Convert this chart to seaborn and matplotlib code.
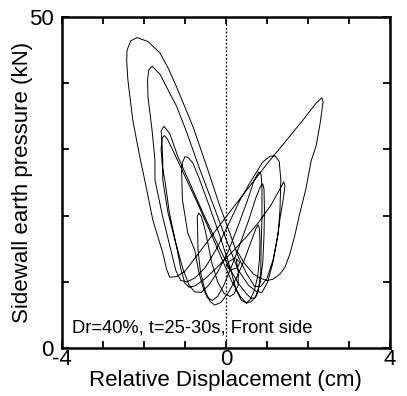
import matplotlib
matplotlib.use("Agg")
import matplotlib.pyplot as plt
import numpy as np
import pandas as pd
import seaborn as sns

# relative displacement (cm) / sidewall earth pressure (kN) in time order
start_x = [0.22, 0.08, 0.02, 0.10, 0.28, 0.34, 0.25, 0.30, 0.30, 0.20, 0.10, -0.05]
start_y = [13.6, 13.1, 12.4, 11.8, 12.1, 12.9, 13.5, 11.5, 9.5, 8.2, 7.8, 8.3]

cyc1_x = [-0.20, -0.35, -0.44, -0.52, -0.60, -0.66, -0.70, -0.69, -0.68, -0.62, -0.50, -0.38, -0.27, -0.12, 0.05,
          0.25, 0.45, 0.62, 0.73, 0.79, 0.82, 0.83, 0.82, 0.78, 0.70, 0.60, 0.50, 0.38, 0.25]
cyc1_y = [10.0, 13.0, 15.9, 18.2, 19.9, 20.4, 19.8, 18.3, 14.8, 11.5, 8.5, 7.0, 6.5, 6.9, 8.3,
          10.5, 13.3, 16.2, 18.0, 18.6, 18.0, 16.0, 13.5, 11.0, 8.8, 7.4, 6.8, 7.2, 8.8]

cyc2_x = [0.10, -0.15, -0.46, -0.65, -0.80, -0.92, -1.00, -1.06, -1.08, -1.06, -0.93, -0.76, -0.66, -0.55, -0.45,
          -0.33, -0.20, -0.05, 0.15, 0.35, 0.55, 0.72, 0.84, 0.90, 0.93, 0.94, 0.93, 0.90, 0.84, 0.75, 0.62, 0.50]
cyc2_y = [12.2, 17.0, 22.4, 25.6, 27.9, 28.8, 28.9, 28.0, 26.9, 22.4, 17.4, 14.8, 11.5, 9.0, 7.6,
          7.2, 7.8, 9.5, 12.5, 15.8, 19.2, 22.5, 24.4, 24.8, 24.0, 21.0, 17.0, 13.0, 10.0, 8.0, 7.0, 6.8]

cyc3_x = [0.35, 0.15, -0.10, -0.40, -0.70, -1.00, -1.25, -1.42, -1.50, -1.56, -1.58, -1.55, -1.48, -1.38, -1.22,
          -1.05, -0.90, -0.76, -0.60, -0.42, -0.20, 0.05, 0.30, 0.52, 0.68, 0.80, 0.86, 0.88, 0.88, 0.86, 0.85,
          0.80, 0.72, 0.62, 0.50]
cyc3_y = [7.8, 10.0, 13.5, 17.8, 22.0, 26.0, 29.3, 31.5, 32.1, 31.7, 30.0, 27.5, 25.0, 20.5, 15.8,
          12.0, 9.5, 8.5, 8.4, 9.5, 11.5, 14.5, 18.5, 22.2, 25.2, 26.6, 26.2, 24.0, 20.0, 15.5, 11.5,
          9.0, 7.6, 7.5, 8.2]

cyc4_x = [0.30, 0.05, -0.25, -0.55, -0.85, -1.17, -1.37, -1.51, -1.58, -1.56, -1.54, -1.54, -1.41, -1.20, -1.10,
          -1.00, -0.90, -0.75, -0.50, -0.20, 0.15, 0.50, 0.80, 1.10, 1.30, 1.41, 1.44, 1.40, 1.33, 1.25, 1.15,
          1.02, 0.88, 0.75]
cyc4_y = [9.8, 12.5, 16.3, 20.3, 24.5, 28.9, 32.4, 33.5, 32.8, 31.4, 28.4, 25.4, 20.4, 15.3, 12.0,
          9.8, 9.2, 9.4, 10.5, 12.3, 14.5, 16.8, 19.0, 21.6, 23.8, 25.1, 24.5, 22.5, 20.0, 16.5, 13.0,
          10.0, 8.4, 8.5]

cyc5_x = [0.55, 0.30, 0.00, -0.30, -0.63, -0.95, -1.20, -1.37, -1.60, -1.80, -1.88, -1.91, -1.90, -1.80, -1.73,
          -1.73, -1.54, -1.35, -1.22, -1.10, -0.95, -0.75, -0.50, -0.20, 0.10, 0.34, 0.63, 0.90, 1.08, 1.20,
          1.30, 1.34, 1.32, 1.28, 1.15, 1.00, 0.85, 0.70]
cyc5_y = [9.5, 11.8, 16.5, 21.5, 26.9, 32.5, 36.5, 38.5, 41.3, 42.6, 42.0, 40.5, 37.9, 32.9, 28.4,
          25.4, 19.8, 15.0, 11.7, 10.2, 10.0, 10.6, 12.2, 15.3, 19.2, 22.3, 25.4, 28.1, 29.0, 29.0,
          28.2, 25.4, 21.0, 17.4, 13.3, 10.5, 9.3, 9.3]

cyc6_x = [0.50, 0.30, 0.10, -0.15, -0.46, -0.80, -1.20, -1.40, -1.61, -1.90, -2.17, -2.32, -2.41, -2.42, -2.39,
          -2.27, -2.10, -1.98, -1.78, -1.54, -1.45, -1.37, -1.20, -1.00, -0.80, -0.40, 0.00, 0.50, 1.00, 1.40,
          1.90, 2.20, 2.34, 2.37, 2.30, 2.20, 2.08, 1.95, 1.80, 1.68, 1.56, 1.44, 1.32, 1.15, 1.00, 0.82,
          0.67, 0.45, 0.26]
cyc6_y = [11.3, 13.8, 17.3, 21.5, 27.3, 33.4, 39.4, 42.2, 44.6, 46.3, 46.9, 46.4, 45.0, 43.5, 40.5,
          34.4, 28.9, 25.4, 19.3, 14.4, 12.0, 10.7, 10.8, 11.6, 13.2, 16.5, 19.8, 23.8, 27.8, 30.8,
          34.6, 37.0, 37.8, 37.2, 34.0, 30.5, 28.3, 24.0, 20.3, 17.0, 14.2, 12.2, 11.2, 10.4, 10.2, 10.6,
          11.2, 12.8, 14.8]

disp = start_x + cyc1_x + cyc2_x + cyc3_x + cyc4_x + cyc5_x + cyc6_x
pres = start_y + cyc1_y + cyc2_y + cyc3_y + cyc4_y + cyc5_y + cyc6_y
df = pd.DataFrame({"disp": disp, "pres": pres})

x_ticks = [-4, -3, -2, -1, 0, 1, 2, 3, 4]
x_labels = ["-4", "", "", "", "0", "", "", "", "4"]
y_ticks = [0, 10, 20, 30, 40, 50]
y_labels = ["0", "", "", "", "", "50"]
note = "Dr=40%, t=25-30s, Front side"

sns.set_style("ticks")
plt.rcParams["font.family"] = ["Liberation Sans", "DejaVu Sans"]
plt.rcParams["text.color"] = "black"
plt.rcParams["axes.labelcolor"] = "black"

fig = plt.figure(figsize=(4.07, 3.96), dpi=100)
ax = fig.add_axes([0.152, 0.121, 0.806, 0.836])

ax.axvline(0, color="black", lw=0.9, ls=(0, (1.5, 1.5)), zorder=1)
sns.lineplot(data=df, x="disp", y="pres", sort=False, estimator=None,
             color="black", lw=0.7, ax=ax, zorder=2)

ax.set_xlim(-4, 4)
ax.set_ylim(0, 50)
ax.set_xticks(x_ticks)
ax.set_xticklabels(x_labels)
ax.set_yticks(y_ticks)
ax.set_yticklabels(y_labels)
ax.tick_params(axis="both", direction="in", length=5, width=1.3, top=True, right=True,
               labelsize=16, colors="black")
ax.tick_params(axis="x", pad=1)
ax.tick_params(axis="y", pad=6)
for s in ax.spines.values():
    s.set_linewidth(1.8)
    s.set_color("black")

ax.set_xlabel("Relative Displacement (cm)", fontsize=16, labelpad=0)
ax.set_ylabel("Sidewall earth pressure (kN)", fontsize=16)
ax.yaxis.set_label_coords(-0.088, 0.5)
ax.text(-3.76, 2.3, note, fontsize=13.2, va="baseline", ha="left")

fig.savefig("out.png", dpi=100)
